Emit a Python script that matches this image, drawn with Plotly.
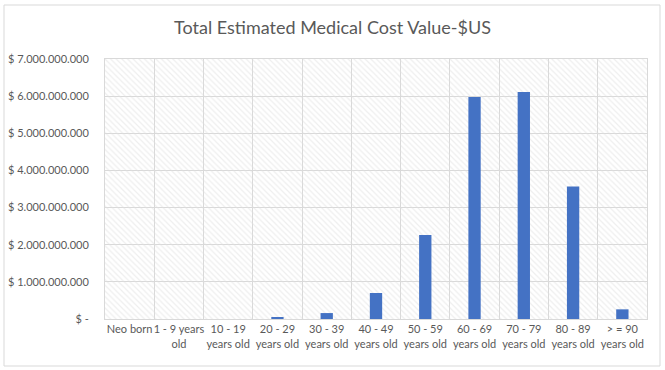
import plotly.graph_objects as go

categories = ["Neo born", "1 - 9 years<br>old", "10 - 19<br>years old", "20 - 29<br>years old",
              "30 - 39<br>years old", "40 - 49<br>years old", "50 - 59<br>years old",
              "60 - 69<br>years old", "70 - 79<br>years old", "80 - 89<br>years old",
              "> = 90<br>years old"]
cost_values = [0, 0, 0, 4.0e7, 1.6e8, 7.0e8, 2.26e9, 5.98e9, 6.11e9, 3.57e9, 2.6e8]
y_tickvals = [0, 1e9, 2e9, 3e9, 4e9, 5e9, 6e9, 7e9]
y_ticktext = ["$ -", "$ 1.000.000.000", "$ 2.000.000.000", "$ 3.000.000.000",
              "$ 4.000.000.000", "$ 5.000.000.000", "$ 6.000.000.000", "$ 7.000.000.000"]
title_text = "Total Estimated Medical Cost Value-$US"

FONT = "Lato"
TXT = "#595959"
GRID = "#d9d9d9"

fig = go.Figure()

# hatched plot-area background (one bar spanning every category)
n = len(categories)
fig.add_trace(go.Bar(
    x=[categories[n // 2]], y=[y_tickvals[-1]], width=[n],
    marker=dict(color="rgba(0,0,0,0)", line=dict(width=0),
                pattern=dict(shape="\\", fgcolor="#dedede", bgcolor="rgba(0,0,0,0)",
                             size=4, solidity=0.3)),
    hoverinfo="skip", showlegend=False,
))

fig.add_trace(go.Bar(
    x=categories, y=cost_values, width=0.25,
    marker=dict(color="#4472C4", line=dict(width=0)),
    showlegend=False,
))

fig.update_layout(
    width=665, height=370,
    margin=dict(l=105, r=18, t=59, b=51),
    paper_bgcolor="white", plot_bgcolor="white",
    barmode="overlay",
    font=dict(family=FONT, size=11, color=TXT),
    title=dict(text=title_text, x=0.5, xanchor="center", y=1 - 28 / 370, yanchor="middle",
               yref="container", font=dict(family=FONT, size=18, color=TXT)),
    xaxis=dict(type="category", categoryorder="array", categoryarray=categories,
               tickson="boundaries", showgrid=True, gridcolor=GRID, gridwidth=1,
               showline=True, mirror=True, linecolor=GRID, linewidth=1,
               ticks="outside", ticklen=11, tickcolor="rgba(0,0,0,0)", tickangle=0,
               automargin=False, range=[-0.5, n - 0.5],
               tickfont=dict(family=FONT, size=11, color=TXT)),
    yaxis=dict(range=[0, 7e9], tickvals=y_tickvals, ticktext=y_ticktext,
               showgrid=True, gridcolor=GRID, gridwidth=1, zeroline=False,
               showline=True, mirror=True, linecolor=GRID, linewidth=1,
               ticks="outside", ticklen=13, tickcolor="rgba(0,0,0,0)",
               automargin=False,
               tickfont=dict(family=FONT, size=11, color=TXT)),
)

# outer chart border
fig.add_shape(type="rect", xref="paper", yref="paper",
              x0=(4 - 105) / 542, x1=(660 - 105) / 542,
              y0=(319 - 366) / 260, y1=(319 - 5) / 260,
              line=dict(color=GRID, width=1), fillcolor="rgba(0,0,0,0)", layer="below")

fig.write_html("out.html", config={"displayModeBar": False},
               post_script="document.body.style.margin='0';document.body.style.overflow='hidden';")
